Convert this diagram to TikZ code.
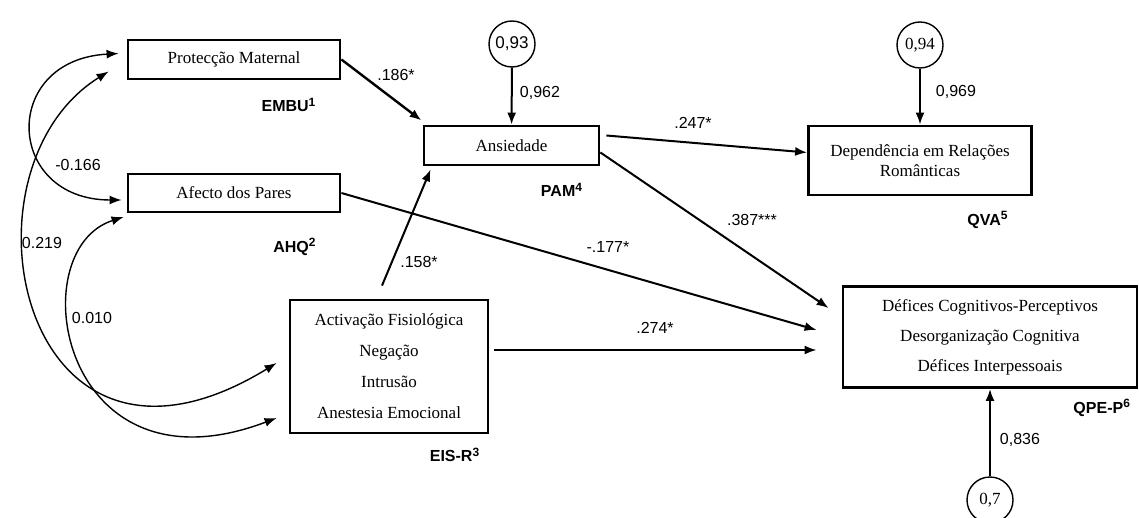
\documentclass[tikz,border=0pt]{standalone}
\usepackage{fontspec}
\setmainfont{Liberation Serif}
\setsansfont{Liberation Sans}
\usetikzlibrary{arrows.meta,calc}
\begin{document}
\begin{tikzpicture}[x=0.5pt,y=-0.5pt,
    box/.style={rectangle,draw,line width=1.4pt,inner sep=0pt,align=center,font=\fontsize{8.5}{10}\selectfont},
    err/.style={circle,draw,line width=0.7pt,minimum size=23pt,inner sep=0pt,font=\fontsize{8.5}{10}\selectfont},
    num/.style={font=\sffamily\fontsize{8}{9}\selectfont},
    scl/.style={font=\sffamily\bfseries\fontsize{8}{9}\selectfont},
    reg/.style={-{Latex[length=6pt,width=4.5pt]},line width=1pt},
    cov/.style={{Latex[length=6pt,width=4.5pt]}-{Latex[length=6pt,width=4.5pt]},line width=0.7pt}]
    \useasboundingbox (0,0) rectangle (1139,518);
    \node[box,minimum width=106pt,minimum height=19.5pt] (p) at (234,59.5) {Protecção Maternal};
    \node[box,minimum width=106pt,minimum height=19pt] (a) at (234,193) {Afecto dos Pares};
    \node[box,minimum width=87.5pt,minimum height=19.5pt] (n) at (511.5,145.5) {Ansiedade};
    \node[box,minimum width=111.5pt,minimum height=34.5pt] (d) at (920,160.5) {Dependência em Relações\\Românticas};
    \node[box,minimum width=99pt,minimum height=66.5pt,font=\fontsize{8.5}{15.5}\selectfont] (e) at (389,366.5)
      {Activação Fisiológica\\Negação\\Intrusão\\Anestesia Emocional};
    \node[box,minimum width=147pt,minimum height=50.5pt,font=\fontsize{8.5}{15}\selectfont] (q) at (990,337)
      {Défices Cognitivos-Perceptivos\\Desorganização Cognitiva\\Défices Interpessoais};
    \node[err,font=\sffamily\fontsize{8.5}{10}\selectfont] (u1) at (512,44) {0,93};
    \node[err] (u2) at (920,45) {0,94};
    \node[err] (u3) at (990,500) {0,7};
    \node[scl] (s1) at (289,105) {EMBU\textsuperscript{1}};
    \node[scl] (s2) at (295,247) {AHQ\textsuperscript{2}};
    \node[scl] (s3) at (455,455) {EIS-R\textsuperscript{3}};
    \node[scl] (s4) at (562,190) {PAM\textsuperscript{4}};
    \node[scl] (s5) at (988,220) {QVA\textsuperscript{5}};
    \node[scl,anchor=east] (s6) at (1138,408) {QPE-P\textsuperscript{6}};
    \draw[reg] (u1) -- (n);
    \draw[reg] (u2) -- (d);
    \draw[reg] (u3) -- (q);
    \draw[reg,line width=1.2pt] (p.east) -- ($(n.north west)+(-1,-4)$);
    \draw[reg] ($(n.east)+(6,-10)$) -- ($(d.west)+(0,-8)$);
    \draw[reg] ($(n.east)+(0,7)$) -- ($(q.west)+(-13,-29)$);
    \draw[reg] (a.east) -- ($(q.west)+(-25,-7)$);
    \draw[reg] ($(e.east)+(5,-16.5)$) -- ($(q.west)+(-25,13)$);
    \draw[reg] ($(e.north)+(-7,-13)$) -- ($(n.south west)+(8,3)$);
    \draw[cov] ($(p.west)+(-8,-6)$) .. controls (0,60) and (5,200) .. ($(a.west)+(-5,7)$);
    \draw[cov] ($(p.west)+(-18,12)$) .. controls (-50,170) and (20,520) .. ($(e.west)+(-12,-3.5)$);
    \draw[cov] ($(a.west)+(-3,24)$) .. controls (20,250) and (60,500) .. ($(e.west)+(-12,51.5)$);
    \node[num] (c1) at (78,165) {-0.166};
    \node[num] (c2) at (42,243) {0.219};
    \node[num] (c3) at (92,318) {0.010};
    \node[num] (w1) at (396,75) {.186*};
    \node[num] (w2) at (540,93) {0,962};
    \node[num] (w3) at (956,92) {0,969};
    \node[num] (w4) at (693,123) {.247*};
    \node[num] (w5) at (752,220) {.387***};
    \node[num] (w6) at (608,247) {-.177*};
    \node[num] (w7) at (419,262) {.158*};
    \node[num] (w8) at (655,328) {.274*};
    \node[num] (w9) at (1020,440) {0,836};
\end{tikzpicture}
\end{document}
